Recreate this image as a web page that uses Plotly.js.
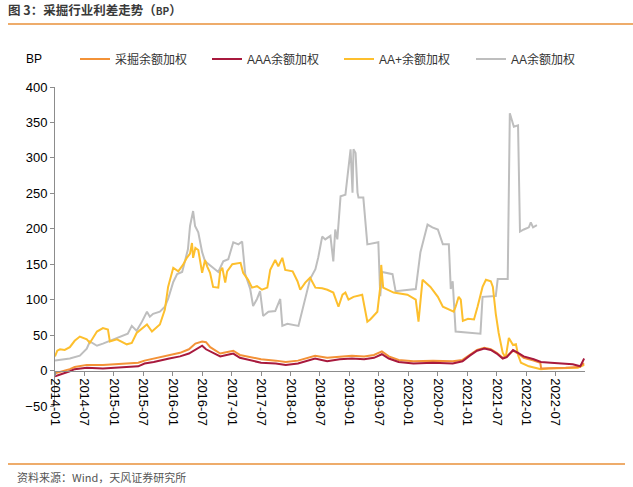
<!DOCTYPE html>
<html>
<head>
<meta charset="utf-8">
<script src="https://cdn.plot.ly/plotly-3.0.1.min.js"></script>
<style>html,body{margin:0;padding:0;background:#fff;}#chart{width:633px;height:487px;}</style>
</head>
<body>
<div id="chart"></div>
<script>
// ---- data (BP) ----
const seriesNames = ["采掘余额加权", "AAA余额加权", "AA+余额加权", "AA余额加权"];

const datesCaijue = ["2014-01-01","2014-02-01","2014-03-02","2014-04-03","2014-05-03","2014-06-04","2014-07-17","2014-10-25","2015-01-20","2015-04-22","2015-06-01","2015-07-10","2015-09-05","2015-12-10","2016-02-15","2016-04-10","2016-05-20","2016-07-01","2016-07-25","2016-08-20","2016-10-21","2016-12-20","2017-01-10","2017-02-20","2017-04-20","2017-07-01","2017-10-01","2017-12-01","2018-02-15","2018-04-15","2018-06-01","2018-08-15","2018-11-01","2019-01-15","2019-04-01","2019-06-01","2019-07-20","2019-09-01","2019-11-01","2020-02-01","2020-06-01","2020-10-01","2020-12-01","2021-01-15","2021-03-01","2021-04-15","2021-05-25","2021-07-01","2021-08-07","2021-09-01","2021-10-10","2021-11-10","2021-12-15","2022-02-15","2022-03-28","2022-04-02","2022-06-01","2022-09-01","2022-11-15","2022-12-25"];
const caijue = [-4,-2,0,2,5,6,8,8,9,10,11,14,17,22,25,30,38,41,40,33,24,27,28,22,19,16,14,12,14,18,21,18,20,21,20,22,27,20,15,13,14,13,15,22,29,32,30,25,18,20,28,24,18,14,11,3,3,4,5,10];

const datesAAA = ["2014-01-01","2014-02-01","2014-03-02","2014-04-03","2014-05-03","2014-06-04","2014-07-17","2014-10-25","2015-01-20","2015-04-22","2015-06-01","2015-07-10","2015-09-05","2015-12-10","2016-02-15","2016-04-10","2016-05-20","2016-07-01","2016-07-25","2016-08-20","2016-10-21","2016-12-20","2017-01-10","2017-02-20","2017-04-20","2017-07-01","2017-10-01","2017-12-01","2018-02-15","2018-04-15","2018-06-01","2018-08-15","2018-11-01","2019-01-15","2019-04-01","2019-06-01","2019-07-20","2019-09-01","2019-11-01","2020-02-01","2020-06-01","2020-10-01","2020-12-01","2021-01-15","2021-03-01","2021-04-15","2021-05-25","2021-07-01","2021-08-07","2021-09-01","2021-10-10","2021-11-10","2021-12-15","2022-02-15","2022-04-01","2022-06-01","2022-08-15","2022-10-15","2022-12-01","2022-12-25"];
const aaa = [-8,-6,-4,-1,2,3,4,3,4,5,6,10,12,17,20,24,29,35,30,27,20,23,24,18,15,11,10,8,10,14,17,13,16,17,16,18,23,17,12,10,11,10,13,21,28,31,29,24,17,19,29,25,20,16,12,11,10,9,6,17];

const datesAAplus = ["2014-01-01","2014-01-15","2014-02-01","2014-03-02","2014-04-03","2014-05-03","2014-06-04","2014-07-17","2014-08-05","2014-09-18","2014-10-25","2014-11-25","2014-12-07","2015-01-20","2015-03-22","2015-04-22","2015-05-22","2015-07-25","2015-08-25","2015-10-13","2015-11-13","2015-12-03","2016-01-04","2016-02-04","2016-03-04","2016-03-28","2016-04-17","2016-04-29","2016-05-06","2016-05-20","2016-06-07","2016-07-01","2016-07-19","2016-08-01","2016-08-19","2016-09-07","2016-10-09","2016-10-21","2016-11-03","2016-11-21","2016-12-03","2017-01-04","2017-02-24","2017-03-12","2017-04-12","2017-05-06","2017-06-06","2017-07-07","2017-08-09","2017-08-27","2017-09-27","2017-10-16","2017-11-10","2017-11-28","2018-01-13","2018-02-12","2018-03-01","2018-04-01","2018-05-01","2018-06-03","2018-07-15","2018-08-16","2018-09-22","2018-10-24","2018-11-18","2018-12-06","2018-12-25","2019-01-25","2019-03-20","2019-04-09","2019-04-21","2019-05-09","2019-06-22","2019-07-10","2019-07-16","2019-07-28","2019-10-01","2019-12-25","2020-02-15","2020-03-03","2020-03-28","2020-05-16","2020-07-01","2020-08-01","2020-09-07","2020-10-07","2020-10-19","2020-11-07","2020-11-20","2020-12-03","2021-01-04","2021-02-10","2021-03-04","2021-04-04","2021-04-25","2021-05-25","2021-06-07","2021-06-25","2021-07-13","2021-08-07","2021-08-25","2021-09-14","2021-10-10","2021-10-28","2021-11-10","2021-11-28","2022-01-16","2022-04-01","2022-05-19","2022-09-04","2022-11-16","2022-12-25"];
const aaplus = [20,28,30,29,33,42,48,44,39,55,60,58,41,44,37,39,53,65,55,65,86,118,145,140,149,159,165,180,159,173,170,138,156,147,138,118,117,140,145,124,140,150,152,138,128,117,119,114,117,142,156,147,159,142,140,126,114,124,131,117,116,114,110,90,107,110,100,104,107,86,69,72,83,118,149,117,110,107,100,69,128,118,104,90,86,83,90,104,100,70,73,72,90,118,128,126,118,80,53,25,18,46,36,37,22,11,6,2,3,3,4,8];

const datesAA = ["2014-01-01","2014-04-03","2014-06-04","2014-07-17","2014-08-05","2014-09-18","2014-10-25","2014-12-07","2015-01-08","2015-02-20","2015-03-28","2015-04-22","2015-05-22","2015-06-24","2015-07-25","2015-08-12","2015-09-01","2015-10-13","2015-11-13","2015-12-03","2016-01-04","2016-01-28","2016-02-28","2016-03-16","2016-04-04","2016-04-17","2016-05-06","2016-05-18","2016-06-07","2016-07-01","2016-07-19","2016-09-01","2016-10-09","2016-11-09","2016-12-10","2017-01-10","2017-02-11","2017-03-06","2017-03-25","2017-04-25","2017-05-13","2017-06-06","2017-06-25","2017-07-14","2017-08-16","2017-09-27","2017-10-28","2017-11-10","2017-12-11","2018-02-18","2018-03-13","2018-04-01","2018-05-01","2018-06-03","2018-06-21","2018-07-15","2018-08-03","2018-09-04","2018-09-22","2018-10-04","2018-10-17","2018-11-06","2018-12-06","2019-01-07","2019-01-19","2019-01-25","2019-02-07","2019-02-19","2019-02-25","2019-03-27","2019-04-21","2019-06-28","2019-07-10","2019-07-22","2019-09-24","2019-10-13","2020-02-15","2020-03-15","2020-04-28","2020-05-28","2020-07-01","2020-08-01","2020-09-07","2020-09-19","2020-10-01","2020-10-19","2021-03-22","2021-04-04","2021-06-25","2021-07-07","2021-09-07","2021-09-20","2021-10-15","2021-11-10","2021-11-22","2021-12-16","2022-01-16","2022-01-28","2022-02-11","2022-03-07"];
const aa = [14,17,21,31,41,35,38,42,45,49,52,63,56,69,83,76,80,83,90,101,125,136,139,154,171,204,225,204,195,167,154,146,139,154,157,181,178,182,136,115,91,101,112,77,83,84,101,63,66,63,83,101,129,143,160,189,185,190,154,199,185,246,248,312,251,312,307,251,244,244,178,181,105,139,136,112,115,167,206,202,199,178,178,115,126,55,52,104,105,129,129,363,344,346,196,199,202,209,202,205];

const yTicks = [-50, 0, 50, 100, 150, 200, 250, 300, 350, 400];

// ---- chart ----
const colors = ["#F39237", "#A8193D", "#FDBF2D", "#BEBEBE"];
const xs = [datesCaijue, datesAAA, datesAAplus, datesAA];
const ys = [caijue, aaa, aaplus, aa];
const order = [3, 2, 0, 1]; // drawing order (AA at back)
const traces = [0,1,2,3].map(i => ({
  type: "scatter", mode: "lines", name: seriesNames[i],
  x: xs[i], y: ys[i],
  line: {color: colors[i], width: 2},
  legendrank: i
}));
const drawn = order.map(i => traces[i]);

const fontFam = "Liberation Sans, Arial, Noto Sans CJK SC, sans-serif";
const L = 55, R = 585, T = 87, B = 406, W = R - L, H = B - T;
const px = v => (v - L) / W, py = v => (B - v) / H;

const layout = {
  width: 633, height: 487,
  margin: {l: L, r: 633 - R, t: T, b: 487 - B, pad: 0},
  paper_bgcolor: "#ffffff", plot_bgcolor: "#ffffff",
  font: {family: fontFam, size: 12, color: "#000"},
  showlegend: true,
  legend: {orientation: "h", x: px(75), y: py(59), xanchor: "left", yanchor: "middle",
           font: {family: fontFam, size: 12, color: "#333"},
           entrywidth: 87, entrywidthmode: "pixels", tracegroupgap: 0,
           traceorder: "normal", bgcolor: "rgba(0,0,0,0)"},
  title: {text: "<b>图 3：采掘行业利差走势（<span style='font-size:10px'>BP</span>）</b>",
          x: 8/633, xref: "container", xanchor: "left", y: 1 - 11/487, yref: "container", yanchor: "middle",
          font: {family: "Noto Sans CJK SC, sans-serif", size: 12.5, color: "#3a3a3a"}},
  xaxis: {type: "date", range: ["2014-01-01", "2022-12-30"], tick0: "2014-01-01", dtick: "M6",
          tickformat: "%Y-%m", tickangle: 90, anchor: "free", position: 50/450,
          showline: true, linecolor: "#8c8c8c", linewidth: 1, ticks: "outside", ticklen: 4,
          tickcolor: "#8c8c8c", showgrid: false, zeroline: false,
          tickfont: {family: fontFam, size: 13, color: "#000"}},
  yaxis: {range: [-50, 400], tickvals: yTicks, showgrid: false, zeroline: false,
          showline: true, linecolor: "#8c8c8c", linewidth: 1, ticks: "outside", ticklen: 4,
          tickcolor: "#8c8c8c", tickfont: {family: fontFam, size: 13, color: "#000"}},
  shapes: [
    {type: "line", xref: "paper", yref: "paper", x0: px(8), x1: px(633), y0: py(24), y1: py(24),
     line: {color: "#E8913A", width: 1.5}},
    {type: "line", xref: "paper", yref: "paper", x0: px(8), x1: px(625), y0: py(464), y1: py(464),
     line: {color: "#E8913A", width: 1.5}}
  ],
  annotations: [
    {text: "BP", xref: "paper", yref: "paper", x: px(34), y: py(59), xanchor: "center", yanchor: "middle",
     showarrow: false, font: {family: fontFam, size: 12, color: "#000"}},
    {text: "资料来源：Wind，天风证券研究所", xref: "paper", yref: "paper", x: px(15), y: py(477),
     xanchor: "left", yanchor: "middle", showarrow: false,
     font: {family: "Noto Sans CJK SC, sans-serif", size: 11, color: "#555"}}
  ]
};

Plotly.newPlot("chart", drawn, layout, {displayModeBar: false, staticPlot: true});
</script>
</body>
</html>
